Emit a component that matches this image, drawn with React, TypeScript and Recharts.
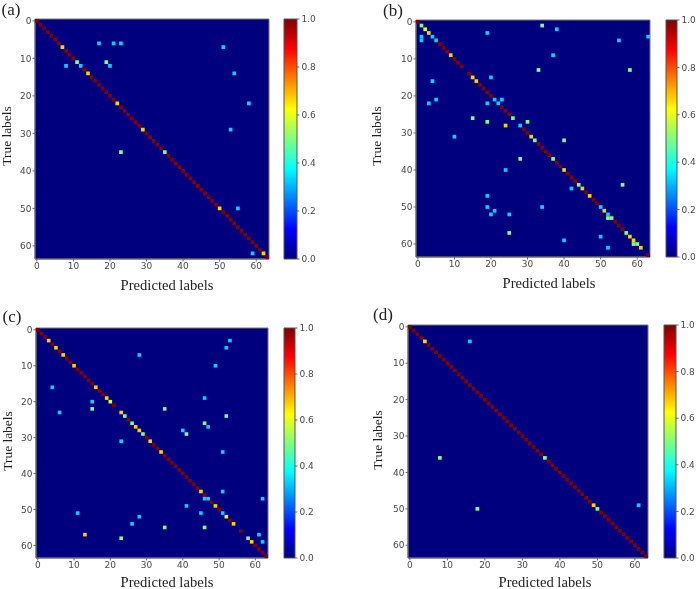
import { ScatterChart, Scatter, XAxis, YAxis, ReferenceArea } from 'recharts';

const matrixTicks = [0, 10, 20, 30, 40, 50, 60];
const barTicks = [0, 0.2, 0.4, 0.6, 0.8, 1];

// jet colormap anchors
const jetStops: [number, string][] = [
  [0, '#00007f'],
  [0.125, '#0000ff'],
  [0.375, '#00ffff'],
  [0.625, '#ffff00'],
  [0.875, '#ff0000'],
  [1, '#7f0000'],
];

// diagonal values, ten per row
const diagA = [
  1, 1, 1, 1, 1, 1, 1, 0.67, 1, 1,
  1, 0.5, 0.33, 1, 0.67, 1, 1, 1, 1, 1,
  1, 1, 0.67, 1, 1, 1, 1, 1, 1, 0.67,
  1, 1, 1, 1, 1, 0.5, 1, 1, 1, 1,
  1, 1, 1, 1, 1, 1, 1, 1, 1, 1,
  0.67, 1, 1, 1, 1, 1, 1, 1, 1, 1,
  1, 1, 0.67, 1,
];
const diagB = [
  1, 0.5, 0.6, 0.67, 0.33, 0.33, 1, 1, 1, 0.67,
  1, 1, 1, 0, 1, 0.67, 0.67, 1, 1, 1,
  1, 0.33, 0.33, 1, 1, 1, 0.5, 0, 0.33, 1,
  1, 0.67, 0.5, 1, 1, 1, 1, 0.5, 1, 1,
  0.67, 1, 1, 1, 0.5, 0.67, 1, 0.67, 1, 1,
  0.33, 0.67, 0.33, 0.5, 1, 1, 1, 0.5, 0.67, 0.67,
  0.5, 0.67, 0, 1,
];
const diagC = [
  1, 1, 1, 0.67, 1, 0.67, 1, 0.67, 1, 1,
  0.67, 1, 1, 1, 1, 1, 0.67, 1, 1, 0.67,
  0.6, 1, 0, 0.67, 0.5, 1, 0.5, 0.67, 0.67, 0.5,
  1, 0.67, 1, 1, 0.67, 1, 1, 1, 1, 1,
  1, 1, 1, 1, 1, 0.67, 1, 0.33, 1, 0.67,
  1, 0.33, 0.6, 1, 0.67, 0, 1, 0, 0.5, 0.67,
  1, 1, 1, 1,
];
const diagD = [
  1, 1, 1, 1, 0.67, 1, 1, 1, 1, 1,
  1, 1, 1, 1, 1, 1, 1, 1, 1, 1,
  1, 1, 1, 1, 1, 1, 1, 1, 1, 1,
  1, 1, 1, 1, 1, 1, 0.5, 1, 1, 1,
  1, 1, 1, 1, 1, 1, 1, 1, 1, 0.67,
  0.5, 1, 1, 1, 1, 1, 1, 1, 1, 1,
  1, 1, 1, 1,
];

// off-diagonal cells: [predicted, true, value]
const offA = [
  [17, 6, 0.33], [21, 6, 0.33], [23, 6, 0.33], [51, 7, 0.33], [8, 12, 0.33],
  [19, 11, 0.5], [20, 12, 0.33], [54, 14, 0.33], [58, 22, 0.33], [53, 29, 0.33],
  [23, 35, 0.5], [55, 50, 0.33], [59, 62, 0.33],
];
const offB = [
  [34, 1, 0.5], [38, 2, 0.33], [19, 3, 0.33], [1, 4, 0.33], [1, 5, 0.33],
  [63, 4, 0.33], [55, 5, 0.33], [37, 9, 0.33], [33, 13, 0.5], [58, 13, 0.5],
  [20, 15, 0.33], [4, 16, 0.33], [5, 21, 0.33], [23, 21, 0.33], [3, 22, 0.33],
  [19, 22, 0.33], [15, 26, 0.5], [19, 27, 0.5], [30, 27, 0.5], [24, 28, 0.67],
  [10, 31, 0.33], [40, 32, 0.5], [28, 37, 0.5], [24, 40, 0.33], [56, 44, 0.5],
  [42, 45, 0.33], [19, 47, 0.33], [19, 50, 0.33], [34, 50, 0.33], [21, 51, 0.33],
  [20, 52, 0.33], [25, 52, 0.33], [52, 53, 0.5], [25, 57, 0.5], [40, 59, 0.33],
  [50, 58, 0.33], [59, 60, 0.5], [52, 61, 0.33],
];
const offC = [
  [53, 3, 0.33], [52, 5, 0.33], [28, 7, 0.33], [49, 10, 0.33], [4, 16, 0.33],
  [46, 19, 0.33], [15, 20, 0.33], [15, 22, 0.5], [35, 22, 0.5], [6, 23, 0.33],
  [52, 24, 0.5], [46, 26, 0.5], [47, 27, 0.33], [40, 28, 0.33], [41, 29, 0.5],
  [23, 31, 0.33], [51, 34, 0.33], [51, 45, 0.33], [46, 47, 0.33], [62, 47, 0.33],
  [41, 49, 0.33], [11, 51, 0.33], [45, 51, 0.33], [28, 52, 0.33], [26, 54, 0.33],
  [35, 55, 0.5], [46, 55, 0.5], [13, 57, 0.67], [61, 57, 0.33], [23, 58, 0.5],
  [62, 59, 0.33],
];
const offD = [
  [16, 4, 0.33], [8, 36, 0.5], [18, 50, 0.5], [61, 49, 0.33],
];

function hexToRgb(hex: string) {
  return [1, 3, 5].map((i) => parseInt(hex.slice(i, i + 2), 16));
}

function jet(v: number) {
  for (let i = 1; i < jetStops.length; i++) {
    const [p0, c0] = jetStops[i - 1];
    const [p1, c1] = jetStops[i];
    if (v <= p1) {
      const t = (v - p0) / (p1 - p0);
      const a = hexToRgb(c0);
      const b = hexToRgb(c1);
      return `rgb(${a.map((n, k) => Math.round(n + (b[k] - n) * t)).join(',')})`;
    }
  }
  return jetStops[jetStops.length - 1][1];
}

const tickStyle = { fontSize: 9, fill: '#4a4a4a', fontFamily: 'DejaVu Sans' };
const axisLine = { stroke: '#666' };
const tickLine = { stroke: '#666' };

interface MatrixProps {
  id: string;
  diag: number[];
  off: number[][];
  box: number[]; // plot left, right, top, bottom
  bar: number[]; // colorbar left, right
}

function Matrix({ id, diag, off, box, bar }: MatrixProps) {
  const [left, right, top, bottom] = box;
  const w = right - left;
  const h = bottom - top;
  const cw = w / 64;
  const ch = h / 64;
  const cells = [
    ...diag.map((v, i) => ({ x: i, y: i, v })),
    ...off.map(([x, y, v]) => ({ x, y, v })),
  ].filter((c) => c.v > 0);

  const renderCell = (props: any) => (
    <rect
      x={props.cx - cw / 2}
      y={props.cy - ch / 2}
      width={cw}
      height={ch}
      fill={jet(props.payload.v)}
    />
  );

  return (
    <>
      <div style={{ position: 'absolute', left: left - 40, top: top - 8 }}>
        <ScatterChart
          width={w + 48}
          height={h + 38}
          margin={{ top: 8, right: 8, bottom: 0, left: 0 }}
        >
          <XAxis
            type="number"
            dataKey="x"
            domain={[-0.5, 63.5]}
            ticks={matrixTicks}
            interval={0}
            height={30}
            tickSize={2.5}
            tickMargin={1}
            tick={tickStyle}
            axisLine={axisLine}
            tickLine={tickLine}
          />
          <YAxis
            type="number"
            dataKey="y"
            reversed
            domain={[-0.5, 63.5]}
            ticks={matrixTicks}
            interval={0}
            width={40}
            tickSize={2.5}
            tickMargin={1}
            tick={tickStyle}
            axisLine={axisLine}
            tickLine={tickLine}
          />
          <ReferenceArea
            x1={-0.5}
            x2={63.5}
            y1={-0.5}
            y2={63.5}
            fill="#00007f"
            fillOpacity={1}
            stroke="#777"
            strokeWidth={1}
          />
          <Scatter data={cells} shape={renderCell} isAnimationActive={false} />
        </ScatterChart>
      </div>
      <div style={{ position: 'absolute', left: bar[0] - 4, top: top - 8 }}>
        <ScatterChart
          width={bar[1] - bar[0] + 44}
          height={h + 16}
          margin={{ top: 8, right: 0, bottom: 8, left: 4 }}
        >
          <defs>
            <linearGradient id={`jet-${id}`} x1="0" y1="1" x2="0" y2="0">
              {jetStops.map(([p, c]) => (
                <stop key={p} offset={p} stopColor={c} />
              ))}
            </linearGradient>
          </defs>
          <XAxis type="number" dataKey="x" domain={[0, 1]} hide />
          <YAxis
            type="number"
            dataKey="y"
            orientation="right"
            domain={[0, 1]}
            ticks={barTicks}
            interval={0}
            width={40}
            tickSize={2.5}
            tickMargin={2}
            tick={tickStyle}
            tickFormatter={(v: number) => v.toFixed(1)}
            axisLine={false}
            tickLine={tickLine}
          />
          <ReferenceArea
            x1={0}
            x2={1}
            y1={0}
            y2={1}
            fill={`url(#jet-${id})`}
            fillOpacity={1}
            stroke="#555"
            strokeWidth={1}
          />
          {/* no visible marks, the chart just needs a series to lay its axes out */}
          <Scatter
            data={barTicks.map((y) => ({ x: 0.5, y }))}
            shape={() => <g />}
            isAnimationActive={false}
          />
        </ScatterChart>
      </div>
    </>
  );
}

function Label({ x, y, text, size, rotate }: { x: number; y: number; text: string; size: number; rotate?: boolean }) {
  return (
    <div
      style={{
        position: 'absolute',
        left: x,
        top: y,
        transform: `translate(-50%, -50%)${rotate ? ' rotate(-90deg)' : ''}`,
        fontFamily: 'Liberation Serif',
        fontSize: size,
        lineHeight: 1,
        color: '#222',
        whiteSpace: 'nowrap',
      }}
    >
      {text}
    </div>
  );
}

export default function App() {
  return (
    // the source figure is a soft raster, so everything gets a slight blur
    <div style={{ position: 'absolute', left: 0, top: 0, width: 698, height: 589, background: '#fff', overflow: 'hidden', filter: 'blur(0.4px)' }}>
      <Matrix id="a" diag={diagA} off={offA} box={[35, 269, 19, 259]} bar={[284, 297]} />
      <Matrix id="b" diag={diagB} off={offB} box={[416, 650, 20, 257]} bar={[666, 677]} />
      <Matrix id="c" diag={diagC} off={offC} box={[36, 268, 328, 558]} bar={[284, 295]} />
      <Matrix id="d" diag={diagD} off={offD} box={[408, 648, 325, 558]} bar={[664, 676]} />

      <Label x={11} y={9} text="(a)" size={17} />
      <Label x={393} y={10} text="(b)" size={17} />
      <Label x={12} y={316} text="(c)" size={17} />
      <Label x={383} y={314} text="(d)" size={17} />

      <Label x={167} y={285} text="Predicted labels" size={14.6} />
      <Label x={549} y={283} text="Predicted labels" size={14.6} />
      <Label x={167} y={582} text="Predicted labels" size={14.6} />
      <Label x={545} y={582} text="Predicted labels" size={14.6} />

      <Label x={7} y={136} text="True labels" size={13.4} rotate />
      <Label x={377} y={136} text="True labels" size={13.4} rotate />
      <Label x={8} y={441} text="True labels" size={13.4} rotate />
      <Label x={378} y={440} text="True labels" size={13.4} rotate />
    </div>
  );
}
